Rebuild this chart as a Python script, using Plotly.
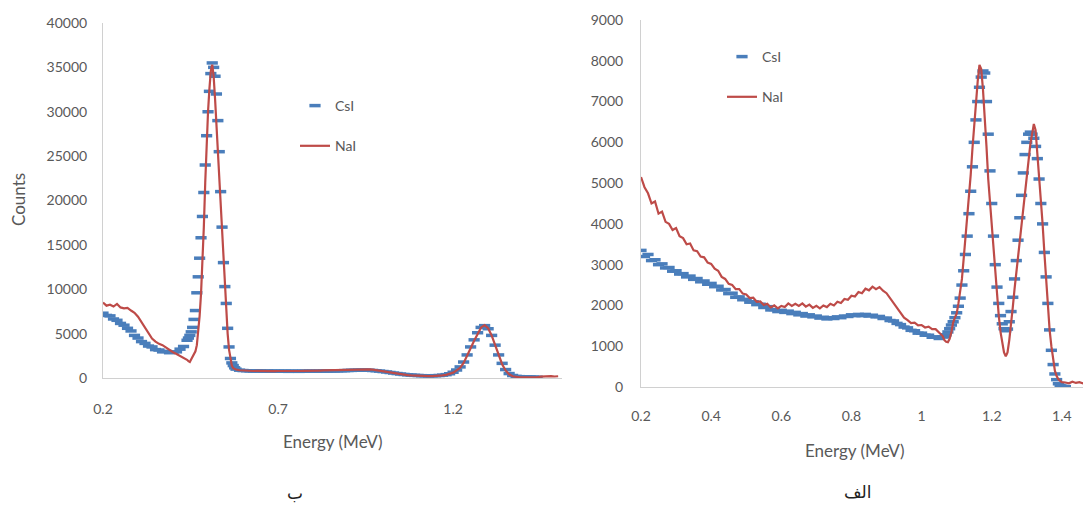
import numpy as np
import plotly.graph_objects as go

# ---------------- Left panel (ب): 0.2 - 1.5 MeV ----------------
def grid(a, b, step):
    n = int(round((b - a) / step)) + 1
    return [round(a + i * step, 4) for i in range(n)]

left_x = grid(0.20, 0.44, 0.01) + grid(0.444, 0.576, 0.004) + grid(0.58, 1.50, 0.01)

left_csi_a = [7300, 7050, 7000, 6650, 6500, 6150, 5950, 5600, 5300, 4800, 4500, 4100, 3900,
              3600, 3500, 3200, 3150, 2950, 3000, 2850, 2900, 2950, 3250, 3550, 4250]
left_nai_a = [8500, 8150, 8250, 8050, 8350, 7950, 7850, 7900, 7600, 7350, 6900, 6300, 5700,
              5000, 4450, 4100, 3850, 3700, 3400, 3100, 2900, 2700, 2500, 2300, 2050]

left_csi_b = [4500, 4800, 5200, 5700, 6600, 7600, 9600, 11400, 13500, 15800, 18200, 20900,
              24000, 27300, 30000, 32300, 34300, 35500, 35000, 34000, 32000, 29000, 25500,
              21000, 17000, 13000, 10300, 8400, 5600, 3500, 2200, 1700, 1400, 1150]
left_nai_b = [1900, 1800, 2100, 2400, 2700, 3000, 3700, 5000, 7000, 9500, 12800, 17000,
              22000, 26500, 30000, 32600, 34600, 35300, 34000, 31500, 28500, 25200, 22000,
              18800, 15600, 12500, 9800, 7300, 5000, 3200, 2000, 1400, 1100, 1000]

left_csi_c = [1000, 880, 840, 820, 800, 780, 810, 790, 770, 790, 760, 780, 770, 760, 780, 750,
              770, 760, 750, 770, 760, 780, 770, 760, 780, 790, 780, 800, 790, 810, 820, 830,
              850, 860, 870, 880, 890, 880, 870, 850, 820, 780, 730, 680, 620, 560, 500, 450,
              400, 360, 330, 300, 280, 260, 250, 240, 250, 260, 280, 320, 380, 480, 650, 900,
              1250, 1800, 2600, 3500, 4300, 5100, 5700, 5900, 5550, 4800, 3700, 2600, 1650,
              950, 500, 280, 180, 150, 130, 120, 110, 100, 90,
              None, None, None, None, None, None]
left_nai_c = [950, 870, 830, 810, 820, 790, 800, 780, 800, 780, 790, 770, 790, 780, 800, 780,
              790, 800, 790, 810, 800, 820, 810, 830, 840, 850, 860, 880, 900, 920, 940, 960,
              980, 1000, 1010, 1020, 1010, 1000, 980, 940, 880, 800, 720, 640, 570, 510, 460,
              410, 370, 330, 300, 270, 250, 230, 220, 210, 220, 230, 250, 290, 350, 450, 600,
              850, 1150, 1700, 2450, 3350, 4200, 5050, 5700, 5950, 5600, 4800, 3700, 2500,
              1550, 850, 420, 200, 120, 80, 60, 50, 50, 60, 80, 150, 200, 180, 220, 170, 200]

left_csi = left_csi_a + left_csi_b + left_csi_c
left_nai = left_nai_a + left_nai_b + left_nai_c

# ---------------- Right panel (الف): 0.2 - 1.48 MeV ----------------
right_x = grid(0.20, 1.06, 0.01) + grid(1.065, 1.40, 0.005) + grid(1.41, 1.48, 0.01)

right_nai_1 = [5150, 4900, 4750, 4500, 4550, 4250, 4300, 4050, 4000, 3850, 3900, 3700, 3650,
               3500, 3520, 3350, 3330, 3200, 3180, 3050, 3020, 2900, 2850, 2700, 2650, 2530,
               2500, 2400, 2400, 2290, 2270, 2180, 2190, 2090, 2100, 2010, 2040, 1950, 2000,
               1930, 1990, 1960, 2050, 1990, 2040, 1990, 2050, 1970, 2020, 1940, 1990, 1930,
               2000, 1960, 2040, 2000, 2090, 2060, 2160, 2140, 2240, 2220, 2330, 2300, 2410,
               2370, 2460, 2400, 2450, 2360, 2300, 2180, 2080, 1940, 1820, 1700, 1640, 1570,
               1580, 1510, 1520, 1460, 1480, 1420, 1420, 1340, 1250]
right_csi_1 = [3350, 3200, 3250, 3100, 3120, 3000, 3020, 2920, 2930, 2840, 2850, 2770, 2780,
               2700, 2720, 2640, 2660, 2580, 2600, 2520, 2540, 2460, 2470, 2380, 2390, 2290,
               2300, 2200, 2210, 2140, 2150, 2080, 2090, 2020, 2030, 1950, 1970, 1890, 1900,
               1850, 1880, 1830, 1860, 1800, 1830, 1770, 1800, 1740, 1770, 1720, 1740, 1690,
               1710, 1670, 1700, 1680, 1720, 1700, 1740, 1730, 1770, 1750, 1780, 1750, 1780,
               1740, 1760, 1720, 1730, 1680, 1690, 1630, 1620, 1560, 1530, 1470, 1450, 1390,
               1380, 1320, 1320, 1270, 1270, 1220, 1230, 1190, 1230]

right_nai_2 = [1150, 1110, 1100, 1180, 1350, 1580, 1700, 1800, 2050, 2350, 2650, 3150, 3650,
               4050, 4600, 5200, 5850, 6450, 7000, 7500, 7900, 7800, 7300, 6700, 5900, 5100,
               4500, 3900, 3300, 2700, 2200, 1750, 1350, 1050, 850, 750, 850, 1150, 1500,
               1950, 2400, 2800, 3250, 3700, 4100, 4500, 4900, 5250, 5600, 5950, 6200, 6450,
               6300, 5750, 5200, 4600, 4000, 3300, 2600, 1950, 1400, 1000, 650, 400, 270,
               190, 150, 120]
right_csi_2 = [1230, 1280, 1350, 1430, 1520, 1600, 1700, 1820, 1980, 2180, 2500, 2850, 3250,
               3700, 4250, 4800, 5400, 6000, 6550, 7000, 7350, 7600, 7750, 7700, 7000, 6200,
               5300, 4500, 3700, 3000, 2450, 2050, 1750, 1550, 1430, 1380, 1420, 1600, 1850,
               2200, 2650, 3100, 3600, 4150, 4700, 5250, 5700, 6000, 6200, 6250, 6200, 6100,
               5900, 5600, 5100, 4500, 4000, 3300, 2700, 2050, 1400, 900, 550, 320, 180, 80,
               40, 20]

right_nai_3 = [110, 90, 130, 100, 120, 90, 140, 110]
right_csi_3 = [10, None, None, None, None, None, None, None]

right_csi = right_csi_1 + right_csi_2 + right_csi_3
right_nai = right_nai_1 + right_nai_2 + right_nai_3

BLUE = "#4a7ebb"
RED = "#be4b48"
GREY_TXT = "#595959"
AXIS_LINE = "#d0d0d0"
FONT = "Lato, Open Sans, sans-serif"

fig = go.Figure()

def add_pair(x, csi, nai, xa, ya, legend):
    fig.add_trace(go.Scatter(x=x, y=csi, mode="markers", name="CsI",
                             marker=dict(symbol="line-ew", size=8,
                                         line=dict(color=BLUE, width=3.5)),
                             xaxis=xa, yaxis=ya, legend=legend, legendgroup=legend + "a"))
    fig.add_trace(go.Scatter(x=x, y=nai, mode="lines", name="NaI",
                             line=dict(color=RED, width=2.2),
                             xaxis=xa, yaxis=ya, legend=legend, legendgroup=legend + "b"))

add_pair(left_x, left_csi, left_nai, "x", "y", "legend")
add_pair(right_x, right_csi, right_nai, "x2", "y2", "legend2")

W, H = 1091, 505
OFF = 8  # page body margin: the figure is drawn 8 px in from the top-left
def px(v): return (v - OFF) / W
def py(v): return (H - (v - OFF)) / H

axis_common = dict(showgrid=False, zeroline=False, showline=True, linecolor=AXIS_LINE,
                   linewidth=1, ticks="", automargin=False,
                   tickfont=dict(family=FONT, size=14, color=GREY_TXT))

legend_common = dict(bgcolor="rgba(0,0,0,0)", font=dict(family=FONT, size=14, color=GREY_TXT),
                     traceorder="grouped", tracegroupgap=19, xanchor="left", yanchor="top")

def ann(text, x, y, size, family=FONT, color=GREY_TXT, angle=0):
    return dict(text=text, x=px(x), y=py(y), xref="paper", yref="paper", showarrow=False,
                xanchor="center", yanchor="middle", textangle=angle,
                font=dict(family=family, size=size, color=color))

fig.update_layout(
    width=W, height=H,
    margin=dict(l=0, r=0, t=0, b=0, pad=0, autoexpand=False),
    paper_bgcolor="white", plot_bgcolor="white",
    showlegend=True,
    xaxis=dict(domain=[px(103), px(562)], range=[0.2, 1.511], tick0=0.2, dtick=0.5,
               ticklabelstandoff=18, anchor="y", **axis_common),
    yaxis=dict(domain=[py(378), py(23)], range=[0, 40000], dtick=5000, tickformat="d",
               ticklabelstandoff=12, anchor="x", **axis_common),
    xaxis2=dict(domain=[px(641), px(1091)], range=[0.2, 1.483], tick0=0.2, dtick=0.2,
                ticklabelstandoff=16, anchor="y2", **axis_common),
    yaxis2=dict(domain=[py(387), py(20)], range=[0, 9000], dtick=1000, tickformat="d",
                ticklabelstandoff=14, anchor="x2", **axis_common),
    legend=dict(x=px(295), y=py(90), **legend_common),
    legend2=dict(x=px(722), y=py(41), **legend_common),
    annotations=[
        ann("Counts", 18, 200, 17, angle=-90),
        ann("Energy (MeV)", 333, 441, 17),
        ann("Energy (MeV)", 855, 450, 17),
        ann("ب", 295, 493, 17, family="DejaVu Sans", color="#222222"),
        ann("الف", 858, 492, 17, family="DejaVu Sans", color="#222222"),
    ],
)

fig.write_html("out.html")
